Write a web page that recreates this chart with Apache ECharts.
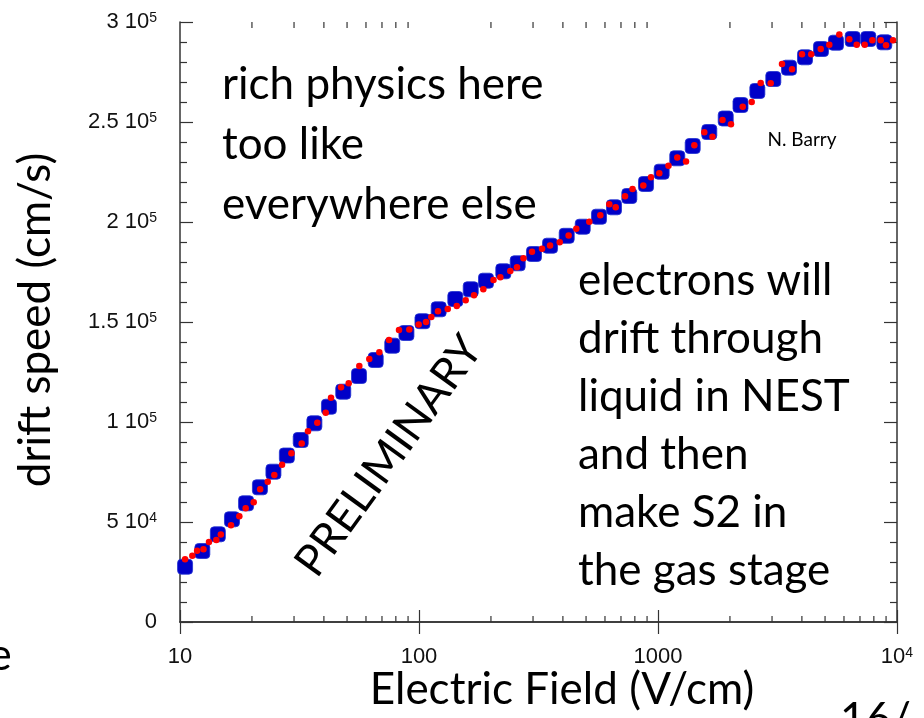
<!DOCTYPE html>
<html>
<head>
<meta charset="utf-8">
<script src="https://cdn.jsdelivr.net/npm/echarts@6/dist/echarts.min.js"></script>
<style>
  html, body { margin: 0; padding: 0; background: #fff; }
  #chart { width: 924px; height: 718px; }
</style>
</head>
<body>
<div id="chart"></div>
<script>
// Electron drift speed in liquid vs. applied field (log field axis)

// Measured drift speed, blue squares: field (V/cm) and speed (cm/s)
const measuredField = [
  10.5, 12.4, 14.4, 16.5, 18.9, 21.6, 24.6, 28.0, 32.0, 36.5,
  42.0, 48.2, 56.1, 65.9, 77.3, 88.6, 103.4, 120.9, 141.9, 164.6,
  190.7, 225.3, 258.8, 302.8, 353.4, 415, 484.2, 566.4, 654.5, 758.6,
  891, 1036, 1204, 1397, 1639, 1920, 2214, 2604, 3037, 3533,
  4122, 4808, 5556, 6524, 7586, 8850
];
const measuredSpeed = [
  27650, 35500, 43850, 51350, 59350, 67350, 75150, 83250, 91000, 99350,
  107650, 115150, 123000, 131000, 138150, 144500, 150400, 156350, 161500, 166350,
  170650, 175350, 179350, 184000, 188150, 193100, 197650, 202650, 207350, 213000,
  219000, 225150, 231850, 238000, 245000, 251750, 258500, 265500, 271500, 277150,
  282350, 286500, 289650, 291500, 291500, 289850
];

// Simulated drift speed, red dots
const simField = [
  10.5, 11.26, 11.79, 12.54, 13.22, 14.19, 14.82, 16.35, 17.71, 18.83,
  20.34, 21.65, 23.28, 24.81, 26.72, 29.25, 32.30, 34.32, 37.54, 40.71,
  42.84, 47.18, 50.80, 56.26, 61.94, 68.23, 74.90, 82.48, 91.08, 99.7,
  107.0, 112.6, 120.1, 131.9, 143.9, 156.8, 169.9, 185.8, 205.0, 218.9,
  241.0, 257.0, 273.6, 297.0, 327.1, 353.4, 387.9, 422.7, 455.1, 515.9,
  573.6, 625.5, 665.3, 727.8, 782.3, 868.1, 934.8, 1012.5, 1106.4, 1204,
  1310, 1419, 1562, 1690, 1862, 2020, 2262, 2466, 2690, 2961,
  3302, 3637, 4004, 4375, 4796, 5209, 5737, 6317, 6783, 7327,
  7884, 8549, 8995, 9623
];
const simSpeed = [
  31350, 33150, 35650, 36350, 40000, 41000, 43750, 48350, 52900, 56900,
  59850, 66350, 70100, 73500, 78650, 84350, 89300, 95400, 99650, 104650,
  112150, 117350, 119350, 128000, 131500, 134850, 141000, 146000, 146250, 148750,
  150000, 152450, 155400, 156500, 158000, 160900, 163400, 166400, 171000, 172350,
  175500, 177350, 181900, 185150, 186600, 188200, 189850, 193250, 196600, 200150,
  203350, 208850, 207350, 212850, 216500, 218300, 222350, 224350, 228150, 232250,
  230250, 238350, 244900, 242650, 251000, 248850, 257650, 260000, 269500, 269350,
  279000, 276350, 283850, 283850, 286500, 288600, 293750, 291350, 288650, 288650,
  290850, 290850, 288350, 290850
];

// Axis ranges and tick labels
const fieldMin = 10, fieldMax = 10000;
const speedMin = 0, speedMax = 300000, speedStep = 50000;
const fieldTickLabels = { 10: '10', 100: '100', 1000: '1000', 10000: '10{sup|4}' };
const speedTickLabels = {
  0: '0', 50000: '5 10{sup|4}', 100000: '1 10{sup|5}', 150000: '1.5 10{sup|5}',
  200000: '2 10{sup|5}', 250000: '2.5 10{sup|5}', 300000: '3 10{sup|5}'
};
// Minor ticks of the logarithmic field axis (2..9 in each decade)
const fieldMinorTicks = [
  20, 30, 40, 50, 60, 70, 80, 90,
  200, 300, 400, 500, 600, 700, 800, 900,
  2000, 3000, 4000, 5000, 6000, 7000, 8000, 9000
];

const AXIS = '#333';
const TXT = 'Lato, "Open Sans", sans-serif';
const supStyle = { sup: { fontSize: 14, fontFamily: 'Liberation Sans', color: '#111', verticalAlign: 'top' } };

function fieldLabel(v) {
  const k = Math.pow(10, Math.round(Math.log10(v)));
  return fieldTickLabels[k] || '';
}
function speedLabel(v) {
  const s = speedTickLabels[Math.round(v)];
  return s === undefined ? '' : s;
}

const chart = echarts.init(document.getElementById('chart'));

chart.setOption({
  animation: false,
  backgroundColor: '#fff',
  grid: { left: 180, right: 27, top: 22, bottom: 96 },
  xAxis: [
    {
      type: 'log', logBase: 10, min: fieldMin, max: fieldMax, position: 'bottom',
      axisLine: { show: true, lineStyle: { color: AXIS, width: 1.5 } },
      axisTick: { show: true, inside: true, length: 12, lineStyle: { color: AXIS, width: 1.2 } },
      splitLine: { show: false },
      axisLabel: {
        fontSize: 22, fontFamily: 'Liberation Sans', color: '#111', margin: 24,
        formatter: fieldLabel, rich: supStyle
      }
    },
    {
      type: 'log', logBase: 10, min: fieldMin, max: fieldMax, position: 'top',
      axisLine: { show: true, lineStyle: { color: AXIS, width: 1.5 } },
      axisTick: { show: true, inside: true, length: 12, lineStyle: { color: AXIS, width: 1.2 } },
      splitLine: { show: false },
      axisLabel: { show: false }
    }
  ],
  yAxis: [
    {
      type: 'value', min: speedMin, max: speedMax, interval: speedStep, position: 'left',
      axisLine: { show: true, lineStyle: { color: AXIS, width: 1.5 } },
      axisTick: { show: true, inside: true, length: 13, lineStyle: { color: AXIS, width: 1.2 } },
      minorTick: { show: true, splitNumber: 5, length: 7, lineStyle: { color: AXIS, width: 1.2 } },
      splitLine: { show: false },
      axisLabel: {
        fontSize: 22, fontFamily: 'Liberation Sans', color: '#111', margin: 23,
        formatter: speedLabel, rich: supStyle
      }
    },
    {
      type: 'value', min: speedMin, max: speedMax, interval: speedStep, position: 'right',
      axisLine: { show: true, lineStyle: { color: AXIS, width: 1.5 } },
      axisTick: { show: true, inside: true, length: 13, lineStyle: { color: AXIS, width: 1.2 } },
      minorTick: { show: true, splitNumber: 5, length: 7, lineStyle: { color: AXIS, width: 1.2 } },
      splitLine: { show: false },
      axisLabel: { show: false }
    }
  ],
  series: [
    {
      name: 'field minor ticks',
      type: 'custom',
      xAxisIndex: 0, yAxisIndex: 0,
      silent: true,
      clip: false,
      data: fieldMinorTicks.map(v => [v, speedMin]),
      renderItem: function (params, api) {
        const v = api.value(0);
        const b = api.coord([v, speedMin]);
        const t = api.coord([v, speedMax]);
        const st = { stroke: AXIS, lineWidth: 1.2 };
        return {
          type: 'group',
          children: [
            { type: 'line', shape: { x1: b[0], y1: b[1], x2: b[0], y2: b[1] - 6 }, style: st },
            { type: 'line', shape: { x1: t[0], y1: t[1], x2: t[0], y2: t[1] + 6 }, style: st }
          ]
        };
      },
      z: 3
    },
    {
      name: 'measured',
      type: 'scatter',
      data: measuredField.map((f, i) => [f, measuredSpeed[i]]),
      symbol: 'roundRect',
      symbolSize: 15,
      itemStyle: { color: '#0000c8', borderColor: '#2030d0', borderWidth: 0.8, opacity: 1 },
      z: 4
    },
    {
      name: 'simulated',
      type: 'scatter',
      data: simField.map((f, i) => [f, simSpeed[i]]),
      symbol: 'circle',
      symbolSize: 6.5,
      itemStyle: { color: '#ff0000', opacity: 1 },
      z: 5
    }
  ],
  graphic: [
    { type: 'text', x: 36, y: 320, rotation: Math.PI / 2,
      style: { text: 'drift speed (cm/s)', font: '44px ' + TXT, fill: '#000', align: 'center', verticalAlign: 'middle' } },
    { type: 'text', x: 562, y: 690,
      style: { text: 'Electric Field (V/cm)', font: '44px ' + TXT, fill: '#000', align: 'center', verticalAlign: 'middle' } },
    { type: 'text', x: 222, y: 55,
      style: { text: 'rich physics here\ntoo like\neverywhere else', font: '44px ' + TXT, lineHeight: 60, fill: '#000', align: 'left', verticalAlign: 'top' } },
    { type: 'text', x: 578, y: 252,
      style: { text: 'electrons will\ndrift through\nliquid in NEST\nand then\nmake S2 in\nthe gas stage', font: '44px ' + TXT, lineHeight: 58, fill: '#000', align: 'left', verticalAlign: 'top' } },
    { type: 'text', x: 389, y: 456, rotation: 54 * Math.PI / 180,
      style: { text: 'PRELIMINARY', font: '44px ' + TXT, fill: '#000', align: 'center', verticalAlign: 'middle' } },
    { type: 'text', x: 802, y: 140,
      style: { text: 'N. Barry', font: '19px ' + TXT, fill: '#000', align: 'center', verticalAlign: 'middle' } },
    { type: 'text', x: 0, y: 656,
      style: { text: 'e', font: '44px ' + TXT, fill: '#000', align: 'center', verticalAlign: 'middle' } },
    { type: 'text', x: 840, y: 698,
      style: { text: '16/', font: '44px ' + TXT, fill: '#000', align: 'left', verticalAlign: 'top' } }
  ]
});
</script>
</body>
</html>
